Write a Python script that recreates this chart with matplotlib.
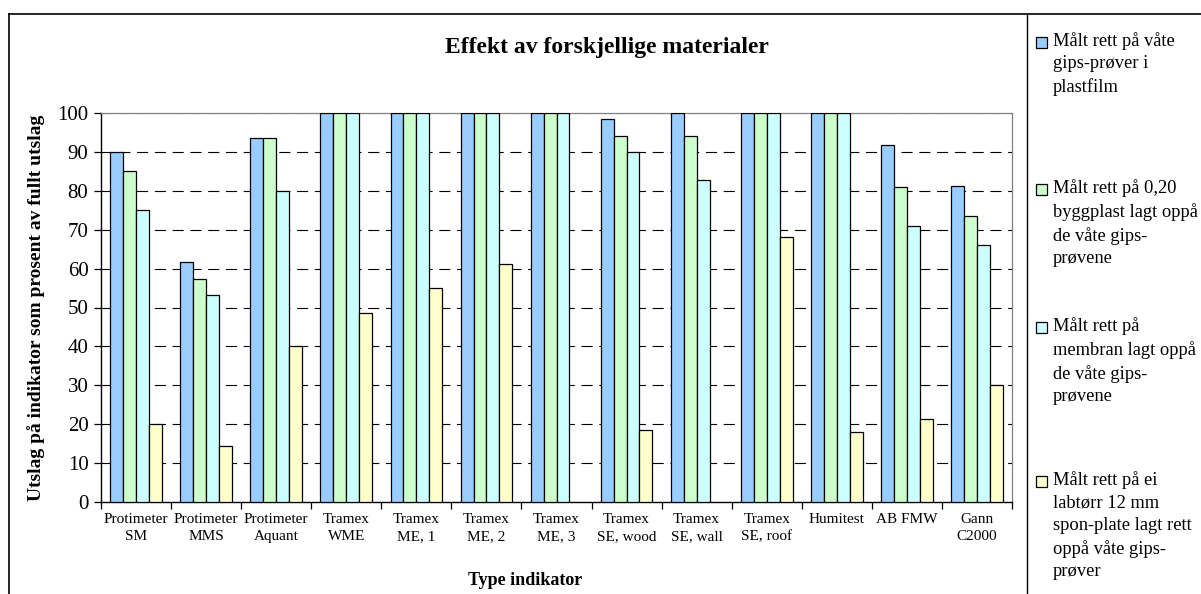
import matplotlib
matplotlib.use('Agg')
import matplotlib.pyplot as plt
from matplotlib.lines import Line2D
from matplotlib.patches import Rectangle
import numpy as np

plt.rcParams['font.family'] = ['Liberation Serif', 'DejaVu Serif']

categories = ['Protimeter\nSM', 'Protimeter\nMMS', 'Protimeter\nAquant', 'Tramex\nWME',
              'Tramex\nME, 1', 'Tramex\nME, 2', 'Tramex\nME, 3', 'Tramex\nSE, wood',
              'Tramex\nSE, wall', 'Tramex\nSE, roof', 'Humitest', 'AB FMW', 'Gann\nC2000']
plastfilm = [90, 61.7, 93.5, 100, 100, 100, 100, 98.4, 100, 100, 100, 91.7, 81.3]
byggplast = [85, 57.4, 93.5, 100, 100, 100, 100, 94.1, 94.1, 100, 100, 81, 73.5]
membran = [75, 53.2, 80, 100, 100, 100, 100, 89.9, 82.9, 100, 100, 70.9, 66]
sponplate = [20, 14.5, 40, 48.6, 55.1, 61.1, 0, 18.4, 0, 68, 18.1, 21.4, 30.2]

series_labels = ['Målt rett på våte\ngips-prøver i\nplastfilm',
                 'Målt rett på 0,20\nbyggplast lagt oppå\nde våte gips-\nprøvene',
                 'Målt rett på\nmembran lagt oppå\nde våte gips-\nprøvene',
                 'Målt rett på ei\nlabtørr 12 mm\nspon-plate lagt rett\noppå våte gips-\nprøver']
colors = ['#99CCFF', '#CCFFCC', '#CCFFFF', '#FFFFCC']

W, H = 1201, 594
fig = plt.figure(figsize=(W / 100, H / 100), dpi=100)
ax = fig.add_axes([101 / W, 1 - 502 / H, (1012 - 101) / W, (502 - 113) / H])

x = np.arange(len(categories))
bw = 0.184
for k, vals in enumerate([plastfilm, byggplast, membran, sponplate]):
    vals = np.array(vals, dtype=float)
    ax.bar(x + (k - 1.5) * bw, np.where(vals > 0, vals, np.nan), bw, color=colors[k],
           edgecolor='black', linewidth=0.9, zorder=3)

ax.set_xlim(-0.5, len(categories) - 0.5)
ax.set_ylim(0, 100)
ax.set_yticks(np.arange(0, 101, 10))
ax.tick_params(axis='y', direction='out', length=5, width=0.9, labelsize=15, pad=4)

# group separators as major ticks, labels on minor ticks
ax.set_xticks(np.arange(-0.5, len(categories), 1.0))
ax.set_xticklabels([])
ax.set_xticks(x, minor=True)
ax.set_xticklabels(categories, minor=True, fontsize=11, linespacing=1.4)
ax.tick_params(axis='x', which='major', direction='out', length=5, width=0.9)
ax.tick_params(axis='x', which='minor', length=0, pad=8)

for yv in range(10, 101, 10):
    ax.axhline(yv, color='black' if yv < 100 else '#808080', lw=0.8,
               dashes=(10, 6), zorder=1)

for s in ['top', 'right']:
    ax.spines[s].set_color('#808080')
    ax.spines[s].set_linewidth(0.9)
for s in ['left', 'bottom']:
    ax.spines[s].set_linewidth(1.0)

ax.set_ylabel('Utslag på indikator som prosent av fullt utslag', fontsize=14,
              fontweight='bold')
ax.yaxis.set_label_coords(-(101 - 45) / (1012 - 101), 0.5)
ax.set_xlabel('Type indikator', fontsize=13, fontweight='bold')
ax.xaxis.set_label_coords((525 - 101) / (1012 - 101), -(572 - 502) / (502 - 113))

fig.text(607 / W, 1 - 48 / H, 'Effekt av forskjellige materialer', fontsize=17,
         fontweight='bold', ha='center', va='center')

# outer frame and legend divider
fig.add_artist(Line2D([9 / W, 1], [1 - 14 / H, 1 - 14 / H], color='black', lw=1.2))
fig.add_artist(Line2D([9 / W, 9 / W], [0, 1 - 14 / H], color='black', lw=1.2))
fig.add_artist(Line2D([1027 / W, 1027 / W], [0, 1 - 14 / H], color='black', lw=1.0))

# legend
first_line = [43, 190, 328, 482]
for k, lab in enumerate(series_labels):
    yc = first_line[k]
    fig.add_artist(Rectangle((1036 / W, 1 - (yc + 5) / H), 11 / W, 11 / H,
                             transform=fig.transFigure, facecolor=colors[k],
                             edgecolor='black', lw=0.9))
    fig.text(1053 / W, 1 - (yc - 11) / H, lab, fontsize=13.3, ha='left', va='top',
             linespacing=1.43)

fig.savefig('out.png', dpi=100)
